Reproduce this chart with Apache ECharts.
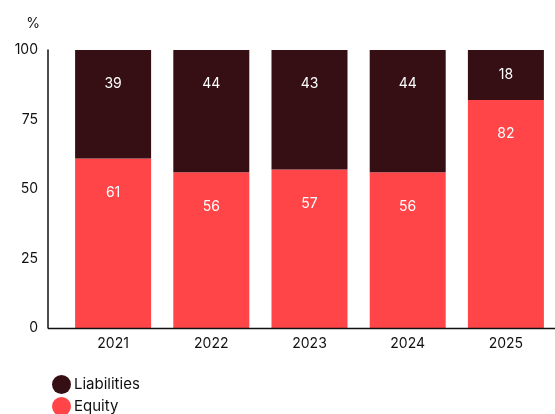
<!DOCTYPE html>
<html>
<head>
<meta charset="utf-8">
<script src="https://cdn.jsdelivr.net/npm/echarts@6/dist/echarts.min.js"></script>
<style>html,body{margin:0;padding:0;background:#fff}#c{width:555px;height:414px}</style>
</head>
<body>
<div id="c"></div>
<script>
const categories = ['2021', '2022', '2023', '2024', '2025'];
const liabilities = [39, 44, 43, 44, 18];
const equity = [61, 56, 57, 56, 82];
const yTicks = [0, 25, 50, 75, 100];

const chart = echarts.init(document.getElementById('c'), null, { renderer: 'canvas' });
const font = 'Inter, "Noto Sans", sans-serif';
const plotH = 414 - 50 - 86;

function labelled(values) {
  return values.map(v => {
    const h = v / 100 * plotH;
    return {
      value: v,
      label: h / 2 < 34 ? { position: 'inside' } : { position: 'insideTop', distance: 27 }
    };
  });
}

const legendText = { fontSize: 15, color: '#111', fontFamily: font, padding: [0, 0, 0, -2] };
chart.setOption({
  animation: false,
  textStyle: { fontFamily: font },
  grid: { left: 64, right: -1, top: 50, bottom: 86, containLabel: false },
  legend: [
    { left: 47, top: 370, data: ['Liabilities'], icon: 'circle', itemWidth: 19, itemHeight: 19, textStyle: legendText },
    { left: 47, top: 392, data: ['Equity'], icon: 'circle', itemWidth: 19, itemHeight: 19, textStyle: legendText }
  ],
  xAxis: {
    type: 'category', data: categories,
    axisLine: { show: false },
    axisTick: { show: false },
    axisLabel: { fontSize: 14, color: '#111', margin: 9, fontFamily: font }
  },
  yAxis: {
    type: 'value', min: yTicks[0], max: yTicks[yTicks.length - 1], interval: 25,
    offset: 16,
    name: '%', nameLocation: 'end', nameGap: 19,
    nameTextStyle: { fontSize: 14, color: '#111', align: 'right', padding: [0, 8, 0, 0], fontFamily: font },
    axisLine: { show: true, lineStyle: { color: '#111', width: 1.5 } },
    axisTick: { show: false },
    splitLine: { show: false },
    axisLabel: { fontSize: 14, color: '#111', margin: 10, fontFamily: font }
  },
  graphic: [{
    type: 'line', z: 100,
    shape: { x1: 48, y1: 328.5, x2: 555, y2: 328.5 },
    style: { stroke: '#111', lineWidth: 1.5 }
  }],
  series: [
    {
      name: 'Equity', type: 'bar', stack: 'a', data: labelled(equity), barWidth: 76,
      itemStyle: { color: '#FF4548' },
      label: { show: true, color: '#fff', fontSize: 14, fontFamily: font }
    },
    {
      name: 'Liabilities', type: 'bar', stack: 'a', data: labelled(liabilities), barWidth: 76,
      itemStyle: { color: '#350F14' },
      label: { show: true, color: '#fff', fontSize: 14, fontFamily: font }
    }
  ]
});
</script>
</body>
</html>
